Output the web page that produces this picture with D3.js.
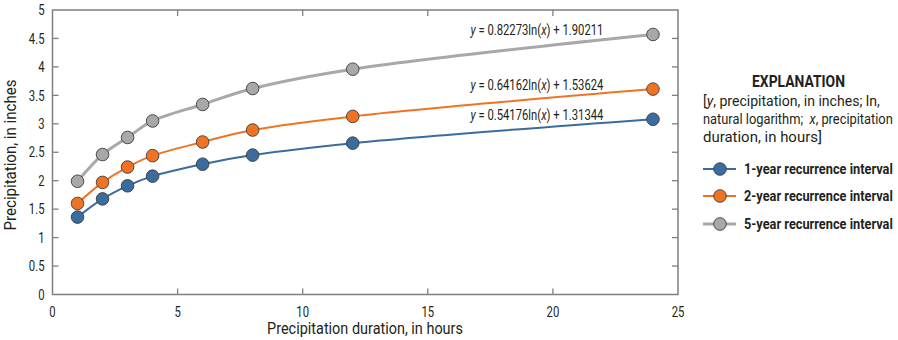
<!DOCTYPE html>
<html>
<head>
<meta charset="utf-8">
<script src="https://cdn.jsdelivr.net/npm/d3@7/dist/d3.min.js"></script>
<style>
  html, body { margin: 0; padding: 0; background: #fff; }
  svg { display: block; }
  text { font-family: Roboto, "Liberation Sans", sans-serif; fill: #231f20; white-space: pre; }
</style>
</head>
<body>
<svg id="chart" width="898" height="340"></svg>
<script>
// ---- data ----
const durations = [1, 2, 3, 4, 6, 8, 12, 24];
const oneYear  = [1.36, 1.68, 1.91, 2.08, 2.29, 2.45, 2.66, 3.08];
const twoYear  = [1.60, 1.97, 2.24, 2.44, 2.68, 2.89, 3.13, 3.61];
const fiveYear = [1.99, 2.46, 2.76, 3.05, 3.34, 3.62, 3.96, 4.57];
const seriesNames = ["1-year recurrence interval", "2-year recurrence interval", "5-year recurrence interval"];
const seriesColors = ["#3a6c9e", "#f07324", "#a7a8aa"];
const equations = [
  { a: "0.54176", b: "1.31344" },
  { a: "0.64162", b: "1.53624" },
  { a: "0.82273", b: "1.90211" }
];
const xTicks = [0, 5, 10, 15, 20, 25];
const yTicks = [0, 0.5, 1, 1.5, 2, 2.5, 3, 3.5, 4, 4.5, 5];
const yTickLabels = ["0", "0.5", "1", "1.5", "2", "2.5", "3", "3.5", "4", "4.5", "5"];

const series = [oneYear, twoYear, fiveYear];

// ---- helper: text placed in a group, horizontally scaled to emulate a condensed face ----
function label(parent, gTransform, opts) {
  const g = parent.append("g").attr("transform", gTransform);
  const t = g.append("text").attr("font-size", opts.size || 14)
    .attr("text-anchor", opts.anchor || "start");
  if (opts.dy) t.attr("dy", opts.dy);
  if (opts.weight) t.attr("font-weight", opts.weight);
  if (opts.parts) {
    opts.parts.forEach(p => {
      const s = t.append("tspan").text(p.t);
      if (p.i) s.attr("font-style", "italic");
    });
  } else {
    t.text(opts.text);
  }
  const w = t.node().getComputedTextLength();
  const s = opts.width ? opts.width / w : (opts.factor || 0.8);
  t.attr("transform", `scale(${s},1)`);
  return t;
}

// ---- layout ----
const svg = d3.select("#chart");
const L = 52.5, R = 678, T = 10, B = 294.5;
const x = d3.scaleLinear().domain([0, 25]).range([L, R]);
const y = d3.scaleLinear().domain([0, 5]).range([B, T]);
const axisColor = "#7f7f7f";

// frame
svg.append("rect").attr("x", L).attr("y", T).attr("width", R - L).attr("height", B - T)
  .attr("fill", "none").attr("stroke", axisColor).attr("stroke-width", 1.5);

// ticks (inside, all four sides)
const tickLen = 6;
const g = svg.append("g").attr("stroke", axisColor).attr("stroke-width", 1.3);
g.selectAll(".yt").data(yTicks.slice(1, -1)).enter().append("line")
  .attr("x1", L).attr("x2", L + tickLen).attr("y1", d => y(d)).attr("y2", d => y(d));
g.selectAll(".yr").data(yTicks.slice(1, -1)).enter().append("line")
  .attr("x1", R).attr("x2", R - tickLen).attr("y1", d => y(d)).attr("y2", d => y(d));
g.selectAll(".xb").data(xTicks.slice(1, -1)).enter().append("line")
  .attr("y1", B).attr("y2", B - tickLen).attr("x1", d => x(d)).attr("x2", d => x(d));
g.selectAll(".xt").data(xTicks.slice(1, -1)).enter().append("line")
  .attr("y1", T).attr("y2", T + tickLen).attr("x1", d => x(d)).attr("x2", d => x(d));

// tick labels
yTicks.forEach((d, i) => {
  label(svg, `translate(${L - 8},${y(d)})`, { text: yTickLabels[i], anchor: "end", dy: "0.36em", size: 14.5, factor: 0.78 });
});
xTicks.forEach(d => {
  label(svg, `translate(${x(d)},317)`, { text: String(d), anchor: "middle", size: 14.5, factor: 0.78 });
});

// axis titles
label(svg, `translate(16,155) rotate(-90)`, { text: "Precipitation, in inches", anchor: "middle", size: 16, width: 151 });
label(svg, `translate(365,334)`, { text: "Precipitation duration, in hours", anchor: "middle", size: 16, width: 196 });

// lines + markers
const line = d3.line().x(d => x(d[0])).y(d => y(d[1])).curve(d3.curveCatmullRom.alpha(0.5));
const lineWidths = [2, 2, 3];
series.forEach((vals, si) => {
  const pts = durations.map((d, i) => [d, vals[i]]);
  svg.append("path").datum(pts).attr("d", line)
    .attr("fill", "none").attr("stroke", seriesColors[si]).attr("stroke-width", lineWidths[si]);
  svg.selectAll(".m" + si).data(pts).enter().append("circle")
    .attr("cx", d => x(d[0])).attr("cy", d => y(d[1])).attr("r", 6.3)
    .attr("fill", seriesColors[si]).attr("stroke", "#3d3d3d").attr("stroke-width", 0.9);
});

// equations
const eqY = [120, 90, 35];
equations.forEach((e, i) => {
  label(svg, `translate(470.5,${eqY[i]})`, {
    size: 14.5, width: 133,
    parts: [{ t: "y", i: true }, { t: " = " + e.a + "ln(" }, { t: "x", i: true }, { t: ") + " + e.b }]
  });
});

// legend
label(svg, `translate(798.5,87)`, { text: "EXPLANATION", anchor: "middle", size: 16, weight: "bold", width: 93 });
label(svg, `translate(703,106)`, {
  size: 14.5, width: 177,
  parts: [{ t: "[" }, { t: "y", i: true }, { t: ", precipitation, in inches; ln," }]
});
label(svg, `translate(703,124)`, {
  size: 14.5, width: 190,
  parts: [{ t: "natural logarithm;  " }, { t: "x", i: true }, { t: ", precipitation" }]
});
label(svg, `translate(703,142)`, { text: "duration, in hours]", size: 14.5, width: 119 });

const legY = [169, 196, 224];
seriesNames.forEach((name, i) => {
  svg.append("line").attr("x1", 703).attr("x2", 736).attr("y1", legY[i]).attr("y2", legY[i])
    .attr("stroke", seriesColors[i]).attr("stroke-width", lineWidths[i]);
  svg.append("circle").attr("cx", 720).attr("cy", legY[i]).attr("r", 6.3)
    .attr("fill", seriesColors[i]).attr("stroke", "#3d3d3d").attr("stroke-width", 0.9);
  label(svg, `translate(744,${legY[i]})`, { text: name, dy: "0.36em", size: 14.5, weight: "bold", width: 149 });
});
</script>
</body>
</html>
